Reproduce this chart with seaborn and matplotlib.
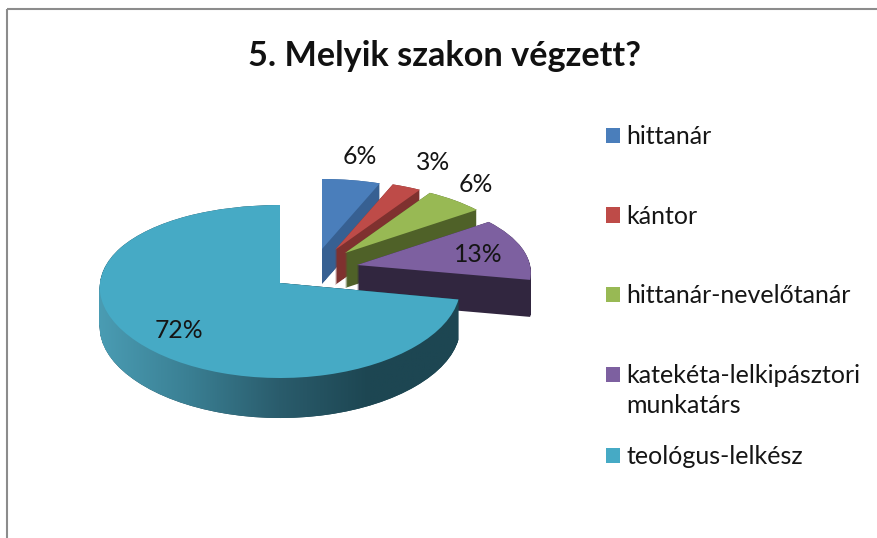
import numpy as np
import matplotlib
matplotlib.use("Agg")
import matplotlib.pyplot as plt
import seaborn as sns
from matplotlib.patches import PathPatch, Rectangle
from matplotlib.path import Path
from matplotlib.transforms import Transform, Affine2D
from matplotlib.colors import LinearSegmentedColormap

# ---- data ----
categories = ["hittanár", "kántor", "hittanár-nevelőtanár",
              "katekéta-lelkipásztori\nmunkatárs", "teológus-lelkész"]
values = [6, 3, 6, 13, 72]
title = "5. Melyik szakon végzett?"

# ---- style / layout (pixels on the 877x538 canvas) ----
top_colors = sns.color_palette(["#4a7ebb", "#be4b48", "#98b954", "#7d60a0", "#46aac5"])
side_colors = sns.color_palette(["#376092", "#7f312f", "#4f6128", "#31263f", "#1e4552"])
apex = [(322, 249), (335, 250), (345, 253), (357, 265), (280, 283)]
depth = [35, 35, 35, 37, 40]
tilt = [(78, 8, 173, 0.10), (78, 8, 173, 0.10), (78, 8, 173, 0.10),
        (78, 8, 173, 0.10), (86.5, 8.5, 180, 0.05)]
pct_pos = [(360, 157), (433, 162), (476, 184), (478, 255), (179, 331)]

sns.set_theme(style="white")
plt.rcParams["font.family"] = ["Lato", "DejaVu Sans"]


class Tilted(Transform):
    """Flatten a unit pie into a perspective ellipse (y grows downward on the canvas)."""
    input_dims = output_dims = 2
    is_separable = False
    has_inverse = False

    def __init__(self, a, b, rx, k):
        super().__init__()
        self.a, self.b, self.rx, self.k = a, b, rx, k

    def transform_non_affine(self, xy):
        xy = np.asarray(xy, dtype=float)
        x, y = xy[:, 0], xy[:, 1]
        return np.column_stack([x * self.rx * (1 - self.k * y),
                                -(self.a * y - self.b * y * y)])


fig = plt.figure(figsize=(8.77, 5.38), dpi=100, facecolor="white")
ax = fig.add_axes([0, 0, 1, 1])

wedges, _, autotexts = ax.pie(values, startangle=90, counterclock=False,
                              colors=top_colors, autopct="%1.0f%%",
                              wedgeprops={"linewidth": 0},
                              textprops={"fontsize": 17.8, "color": "#151515"})
ax.set_aspect("auto")
ax.set_xlim(0, 877)
ax.set_ylim(538, 0)
ax.axis("off")

for i, w in enumerate(wedges):
    t = Tilted(*tilt[i])
    flat = t.transform_path(w.get_path())
    ax_, ay_ = apex[i]
    steps = [Affine2D().translate(ax_, ay_ + d).transform_path(flat)
             for d in np.arange(0, depth[i] + 0.5, 1.0)]
    side = Path.make_compound_path(*steps)
    base_z = 2 + 2 * i
    ax.add_patch(PathPatch(side, facecolor=side_colors[i], edgecolor="none",
                           linewidth=0, zorder=base_z))
    if i == 4:
        cmap = LinearSegmentedColormap.from_list(
            "side", ["#4a9cb3", "#3a7f93", "#2a5c6c", "#1d4652", "#1d4652"])
        im = ax.imshow(np.linspace(0, 1, 256)[None, :], cmap=cmap, aspect="auto",
                       extent=(99, 459, 425, 280), zorder=base_z + 0.5)
        im.set_clip_path(side, ax.transData)
    w.set_transform(t + Affine2D().translate(ax_, ay_) + ax.transData)
    w.set_zorder(base_z + 1)

ax.set_xlim(0, 877)
ax.set_ylim(538, 0)

for txt, pos in zip(autotexts, pct_pos):
    txt.set_position(pos)
    txt.set_zorder(30)

ax.text(445, 56, title, ha="center", va="center", fontsize=24.7,
        fontweight="bold", color="#111111", zorder=30)

# frame: only the left and top edges fall on the canvas
ax.add_patch(Rectangle((7, 9), 1000, 700, fill=False, edgecolor="#8c8c8c",
                       linewidth=1.5, zorder=1))

# legend: four evenly spaced entries and a closer last one
common = dict(frameon=False, fontsize=18.0, handlelength=0.56, handleheight=0.56,
              handletextpad=0.28, borderpad=0, borderaxespad=0,
              labelcolor="#151515", loc="upper left", bbox_transform=ax.transData)
leg1 = ax.legend(wedges[:4], categories[:4], bbox_to_anchor=(605.5, 125.4),
                 labelspacing=2.26, **common)
ax.add_artist(leg1)
leg2 = ax.legend(wedges[4:], categories[4:], bbox_to_anchor=(605.5, 445.5), **common)
for t_ in leg1.get_texts():
    t_.set_linespacing(1.36)
h = leg1.legend_handles[3]
h.set_y(h.get_y() + 12)

fig.savefig("out.png", dpi=100)
